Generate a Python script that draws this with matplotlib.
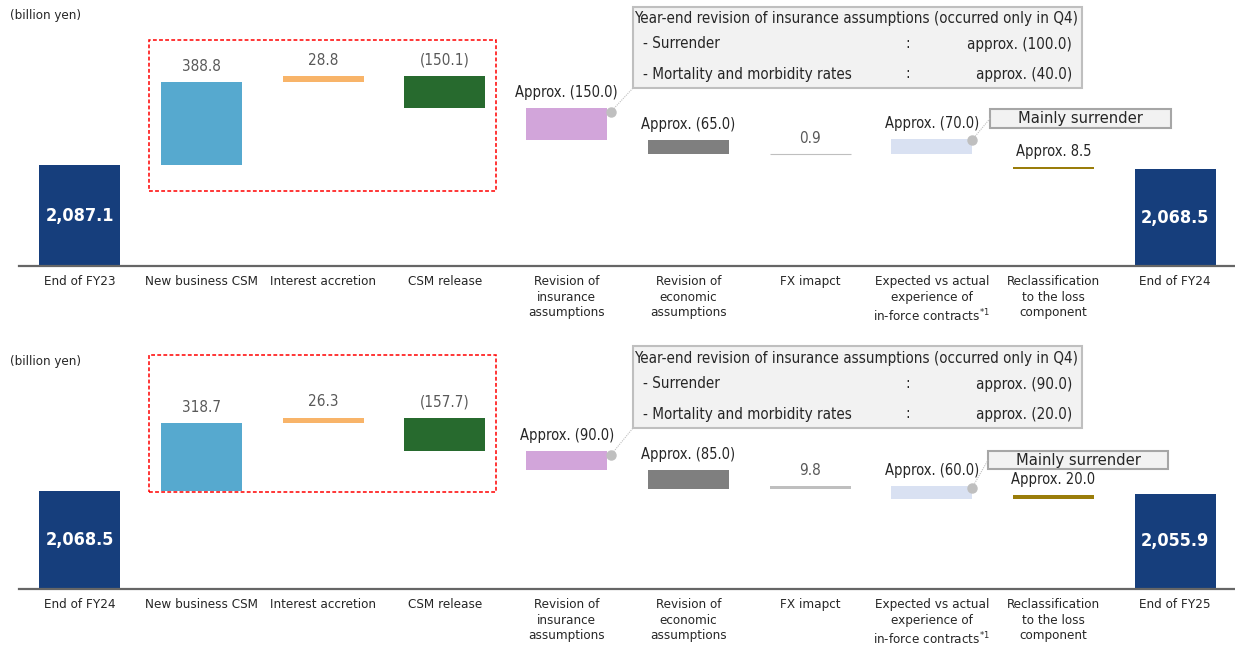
import matplotlib
matplotlib.use("Agg")
import matplotlib.pyplot as plt
from matplotlib.patches import Rectangle
from matplotlib.lines import Line2D

plt.rcParams['font.family'] = ['DejaVu Sans']
plt.rcParams['font.stretch'] = 'condensed'

# ---------------- data ----------------
cats_fy24 = ["End of FY23", "New business CSM", "Interest accretion", "CSM release",
             "Revision of\ninsurance\nassumptions", "Revision of\neconomic\nassumptions",
             "FX imapct", "Expected vs actual\nexperience of\nin-force contracts$^{\\mathregular{*1}}$",
             "Reclassification\nto the loss\ncomponent", "End of FY24"]
cats_fy25 = ["End of FY24", "New business CSM", "Interest accretion", "CSM release",
             "Revision of\ninsurance\nassumptions", "Revision of\neconomic\nassumptions",
             "FX imapct", "Expected vs actual\nexperience of\nin-force contracts$^{\\mathregular{*1}}$",
             "Reclassification\nto the loss\ncomponent", "End of FY25"]

start_fy24 = 2087.1
end_fy24 = 2068.5
changes_fy24 = [388.8, 28.8, -150.1, -150.0, -65.0, 0.9, -70.0, 8.5]
labels_fy24 = ["388.8", "28.8", "(150.1)", "Approx. (150.0)", "Approx. (65.0)", "0.9",
               "Approx. (70.0)", "Approx. 8.5"]
start_label_fy24 = "2,087.1"
end_label_fy24 = "2,068.5"
box_rows_fy24 = [("- Surrender", "approx. (100.0)"),
                 ("- Mortality and morbidity rates", "approx. (40.0)")]

start_fy25 = 2068.5
end_fy25 = 2055.9
changes_fy25 = [318.7, 26.3, -157.7, -90.0, -85.0, 9.8, -60.0, 20.0]
labels_fy25 = ["318.7", "26.3", "(157.7)", "Approx. (90.0)", "Approx. (85.0)", "9.8",
               "Approx. (60.0)", "Approx. 20.0"]
start_label_fy25 = "2,068.5"
end_label_fy25 = "2,055.9"
box_rows_fy25 = [("- Surrender", "approx. (90.0)"),
                 ("- Mortality and morbidity rates", "approx. (20.0)")]

box_title = "Year-end revision of insurance assumptions (occurred only in Q4)"
note_text = "Mainly surrender"
unit_text = "(billion yen)"

# ---------------- style ----------------
total_color = "#163E7C"
change_colors = ["#56A9CF", "#F8B469", "#276A2E", "#D2A5DA", "#7F7F7F", "#BFBFBF",
                 "#D9E1F2", "#9A7D0A"]
label_colors = ["#595959", "#595959", "#595959", "#262626", "#262626", "#595959",
                "#262626", "#262626"]
label_sizes = [11, 11, 11, 10.5, 10.5, 11, 10.5, 10.5]
# the FY24 chart draws the expected-vs-actual bar above its running level
upward_fy24 = [False, False, False, False, False, False, True, False]
upward_fy25 = [False] * 8

W, H = 1235, 645
fig = plt.figure(figsize=(W / 100, H / 100), dpi=100)


def fxy(x, y):
    return (x / W, 1 - y / H)


PX_PER_UNIT = 0.2134
BAR_W = 0.666


def draw_panel(top_px, base_px, y_floor, cats, start, end, changes, labels, upward,
               start_lbl, end_lbl, rows, unit_y, red_box, callout, note_box):
    left_px, right_px = 19, 1236
    ax = fig.add_axes([left_px / W, 1 - base_px / H, (right_px - left_px) / W,
                       (base_px - top_px) / H])
    ax.set_xlim(-0.5, 9.5)
    ax.set_ylim(y_floor, y_floor + (base_px - top_px) / PX_PER_UNIT)
    for s in ("top", "right", "left"):
        ax.spines[s].set_visible(False)
    ax.spines["bottom"].set_color("#666666")
    ax.spines["bottom"].set_linewidth(1.6)
    ax.set_yticks([])
    ax.set_xticks(range(10))
    ax.set_xticklabels(cats, fontsize=9.6, color="#262626", linespacing=1.27)
    ax.tick_params(axis="x", length=0, pad=6.5)

    # totals
    n = len(changes)
    ax.bar([0, n + 1], [start - y_floor, end - y_floor], bottom=y_floor, width=BAR_W,
           color=total_color)
    ax.text(0, (start + y_floor) / 2, start_lbl, ha="center", va="center", color="white",
            fontsize=13, fontweight="bold")
    ax.text(n + 1, (end + y_floor) / 2, end_lbl, ha="center", va="center", color="white",
            fontsize=13, fontweight="bold")

    level = start
    tops = []
    for i, (v, lab, c, lc, ls, up) in enumerate(zip(changes, labels, change_colors,
                                                     label_colors, label_sizes, upward)):
        x = i + 1
        if up or v >= 0:
            bottom = level
        else:
            bottom = level + v
        height = abs(v)
        thin = height * PX_PER_UNIT < 1.2
        ax.bar(x, height, bottom=bottom, width=BAR_W, color=c, edgecolor=c,
               linewidth=0.8 if thin else 0)
        top = bottom + height
        tops.append(top)
        ax.annotate(lab, (x, top), xytext=(0, 8), textcoords="offset points",
                    ha="center", va="baseline", fontsize=ls, color=lc)
        level += v

    # unit
    fig.text(*fxy(10, unit_y), unit_text, ha="left", va="center", fontsize=9.5,
             color="#262626")

    # red dashed frame
    (x0, y0, x1, y1) = red_box
    fx0, fy1 = fxy(x0, y1)
    fx1, fy0 = fxy(x1, y0)
    fig.patches.append(Rectangle((fx0, fy1), fx1 - fx0, fy0 - fy1, transform=fig.transFigure,
                                 fill=False, edgecolor="#FF0000", linestyle=(0, (2.5, 1.5)),
                                 linewidth=1.1))

    inv = fig.transFigure.inverted()

    # callout box for insurance assumptions
    (bx0, by0, bx1, by1, ty, r1y, r2y) = callout
    a, b = fxy(bx0, by1)
    c2, d = fxy(bx1, by0)
    fig.patches.append(Rectangle((a, b), c2 - a, d - b, transform=fig.transFigure,
                                 facecolor="#F2F2F2", edgecolor="#BFBFBF", linewidth=1.5))
    fig.text(*fxy(bx0 + 1, ty), box_title, ha="left", va="center", fontsize=10.9,
             color="#262626")
    for (name, val), ry in zip(rows, [r1y, r2y]):
        fig.text(*fxy(bx0 + 10, ry), name, ha="left", va="center", fontsize=10.9,
                 color="#262626")
        fig.text(*fxy(908, ry), ":", ha="center", va="center", fontsize=10.9,
                 color="#262626")
        fig.text(*fxy(bx1 - 10, ry), val, ha="right", va="center", fontsize=10.9,
                 color="#262626")
    # connector from insurance bar corner
    dot = inv.transform(ax.transData.transform((4 + BAR_W / 2 + 0.03, tops[3] - 18)))
    corner = fxy(bx0, by1)
    fig.lines.append(Line2D([dot[0], corner[0]], [dot[1], corner[1]], transform=fig.transFigure,
                            color="#BFBFBF", linewidth=0.8, linestyle=(0, (1, 1))))
    fig.lines.append(Line2D([dot[0]], [dot[1]], transform=fig.transFigure, marker="o",
                            markersize=6.5, color="#BFBFBF", linestyle="none"))

    # note box
    (nx0, ny0, nx1, ny1) = note_box
    a, b = fxy(nx0, ny1)
    c2, d = fxy(nx1, ny0)
    fig.patches.append(Rectangle((a, b), c2 - a, d - b, transform=fig.transFigure,
                                 facecolor="#F2F2F2", edgecolor="#A6A6A6", linewidth=1.5))
    fig.text(*fxy((nx0 + nx1) / 2, (ny0 + ny1) / 2), note_text, ha="center", va="center",
             fontsize=11.8, color="#262626")
    dot2 = inv.transform(ax.transData.transform((7 + BAR_W / 2, tops[6] - 5)))
    end2 = fxy(nx0, (ny0 + ny1) / 2)
    fig.lines.append(Line2D([dot2[0], end2[0]], [dot2[1], end2[1]], transform=fig.transFigure,
                            color="#BFBFBF", linewidth=0.8, linestyle=(0, (1, 1))))
    fig.lines.append(Line2D([dot2[0]], [dot2[1]], transform=fig.transFigure, marker="o",
                            markersize=6.5, color="#BFBFBF", linestyle="none"))
    return ax


draw_panel(0, 266, 1614, cats_fy24, start_fy24, end_fy24, changes_fy24, labels_fy24,
           upward_fy24, start_label_fy24, end_label_fy24, box_rows_fy24, 16,
           (149, 40, 496, 191), (633, 7, 1082, 88, 19, 44, 74), (990, 109, 1171, 128))
draw_panel(330, 589, 1610, cats_fy25, start_fy25, end_fy25, changes_fy25, labels_fy25,
           upward_fy25, start_label_fy25, end_label_fy25, box_rows_fy25, 362,
           (149, 355, 496, 492), (633, 346, 1082, 428, 358, 384, 414), (988, 451, 1168, 469))

fig.savefig("out.png", dpi=100)
